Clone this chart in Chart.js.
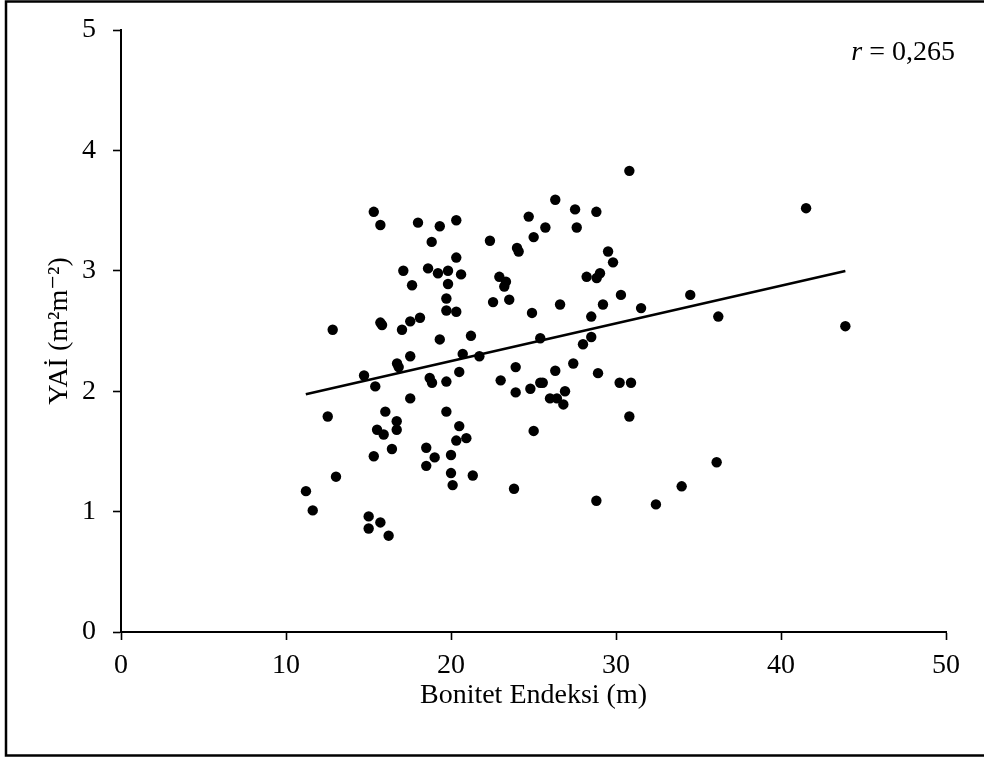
<!DOCTYPE html>
<html>
<head>
<meta charset="utf-8">
<script src="https://cdn.jsdelivr.net/npm/chart.js@4.4.1/dist/chart.umd.min.js"></script>
<style>
  html, body { margin: 0; padding: 0; background: #fff; }
  #wrap { width: 984px; height: 758px; position: relative; }
</style>
</head>
<body>
<div id="wrap"><canvas id="c" width="984" height="758"></canvas></div>
<script>
// Bonitet Endeksi (m)
const xValues = [
  15.32, 15.72, 18.00, 19.32, 20.32, 18.83, 20.32, 22.36, 17.11, 18.61,
  19.21, 19.82, 20.61, 17.64, 19.82, 19.72, 19.72, 20.32, 22.55, 12.83,
  15.72, 15.82, 17.53, 18.12, 17.03, 19.32, 21.21, 20.71, 21.72, 17.53,
  16.73, 16.83, 14.73, 15.41, 18.71, 18.85, 19.72, 20.50, 17.53, 12.53,
  16.02, 16.71, 16.71, 15.52, 15.92, 19.72, 20.50, 20.32, 20.93, 16.42,
  15.32, 18.50, 19.01, 18.50, 20.00, 20.00, 20.10, 21.32, 13.03, 11.21,
  11.62, 15.01, 15.01, 15.72, 16.22,
  30.81, 26.32, 27.52, 28.81, 24.71, 25.72, 27.62, 25.01, 24.00, 24.10,
  29.52, 29.82, 22.93, 23.33, 23.23, 28.22, 28.83, 29.03, 23.53, 26.61,
  24.91, 29.21, 30.30, 28.50, 31.52, 25.41, 28.50, 28.00,
  23.92, 26.32, 27.41, 28.91, 23.01, 23.92, 24.81, 25.41, 25.56, 26.91,
  26.00, 26.42, 26.81, 30.22, 30.91, 30.81, 25.01, 23.82, 28.81, 32.42,
  41.52, 34.50, 36.20, 43.90, 36.10, 33.98
];
// YAİ (m2 m-2)
const yValues = [
  3.49, 3.38, 3.40, 3.37, 3.42, 3.24, 3.11, 3.25, 3.00, 3.02,
  2.98, 3.00, 2.97, 2.88, 2.89, 2.77, 2.67, 2.66, 2.74, 2.51,
  2.57, 2.55, 2.58, 2.61, 2.51, 2.43, 2.46, 2.31, 2.29, 2.29,
  2.23, 2.20, 2.13, 2.04, 2.11, 2.07, 2.08, 2.16, 1.94, 1.79,
  1.83, 1.75, 1.68, 1.68, 1.64, 1.83, 1.71, 1.59, 1.61, 1.52,
  1.46, 1.53, 1.45, 1.38, 1.47, 1.32, 1.22, 1.30, 1.29, 1.17,
  1.01, 0.96, 0.86, 0.91, 0.80,
  3.83, 3.59, 3.51, 3.49, 3.45, 3.36, 3.36, 3.28, 3.19, 3.16,
  3.16, 3.07, 2.95, 2.91, 2.87, 2.95, 2.94, 2.98, 2.76, 2.72,
  2.65, 2.72, 2.80, 2.62, 2.69, 2.44, 2.45, 2.39,
  2.20, 2.17, 2.23, 2.15, 2.09, 1.99, 2.02, 2.07, 2.07, 2.00,
  1.94, 1.94, 1.89, 2.07, 2.07, 1.79, 1.67, 1.19, 1.09, 1.06,
  3.52, 2.80, 2.62, 2.54, 1.41, 1.21
];
// fitted regression line end points
const trendX = [11.2, 43.9];
const trendY = [1.975, 2.998];
const xTickValues = [0, 10, 20, 30, 40, 50];
const yTickValues = [0, 1, 2, 3, 4, 5];
const xTitle = 'Bonitet Endeksi (m)';
const yTitle = 'YAİ (m²m⁻²)';
const rLabel = ['r', ' = 0,265'];

const FONT = '"Liberation Serif", "Times New Roman", "DejaVu Serif", serif';
const FS = 28;

const points = xValues.map((x, i) => ({ x: x, y: yValues[i] }));
const trend = trendX.map((x, i) => ({ x: x, y: trendY[i] }));

const decor = {
  id: 'decor',
  beforeDraw(chart) {
    const ctx = chart.ctx;
    ctx.save();
    ctx.fillStyle = '#fff';
    ctx.fillRect(0, 0, chart.width, chart.height);
    ctx.restore();
  },
  afterDraw(chart) {
    const ctx = chart.ctx;
    ctx.save();
    // outer frame
    ctx.strokeStyle = '#000';
    ctx.lineWidth = 2.5;
    ctx.strokeRect(6, 1.5, 1000, 754);
    // r label
    ctx.fillStyle = '#000';
    ctx.textBaseline = 'alphabetic';
    ctx.font = 'italic ' + FS + 'px ' + FONT;
    const w1 = ctx.measureText(rLabel[0]).width;
    ctx.font = FS + 'px ' + FONT;
    const w2 = ctx.measureText(rLabel[1]).width;
    const right = 955;
    const x0 = right - w1 - w2;
    ctx.font = 'italic ' + FS + 'px ' + FONT;
    ctx.fillText(rLabel[0], x0, 60);
    ctx.font = FS + 'px ' + FONT;
    ctx.fillText(rLabel[1], x0 + w1, 60);
    ctx.restore();
  }
};

function zeroPad(s) { s.paddingTop = 0; s.paddingBottom = 0; s.paddingLeft = 0; s.paddingRight = 0; }

new Chart(document.getElementById('c'), {
  type: 'scatter',
  data: {
    datasets: [
      {
        data: points,
        backgroundColor: '#000',
        borderColor: '#000',
        borderWidth: 0,
        pointRadius: 5.2,
        pointHoverRadius: 5.2
      },
      {
        type: 'line',
        data: trend,
        showLine: true,
        borderColor: '#000',
        borderWidth: 2.6,
        pointRadius: 0,
        fill: false
      }
    ]
  },
  options: {
    responsive: false,
    animation: false,
    devicePixelRatio: 1,
    layout: { padding: { left: 0, top: 30, right: 38, bottom: 0 } },
    plugins: { legend: { display: false }, tooltip: { enabled: false } },
    scales: {
      x: {
        type: 'linear',
        min: 0, max: 50,
        afterBuildTicks: s => { s.ticks = xTickValues.map(v => ({ value: v })); },
        afterFit: s => { s.height = 126; zeroPad(s); },
        ticks: { color: '#000', font: { family: FONT, size: FS }, padding: 9, maxRotation: 0 },
        grid: { drawOnChartArea: false, drawTicks: true, tickLength: 8, tickWidth: 1.6, tickColor: '#000' },
        border: { color: '#000', width: 2 },
        title: { display: true, text: xTitle, color: '#000', font: { family: FONT, size: FS }, padding: { top: 0, bottom: 46 } }
      },
      y: {
        type: 'linear',
        min: 0, max: 5,
        afterBuildTicks: s => { s.ticks = yTickValues.map(v => ({ value: v })); },
        afterFit: s => { s.width = 121; zeroPad(s); },
        ticks: { color: '#000', font: { family: FONT, size: FS }, padding: 17 },
        grid: { drawOnChartArea: false, drawTicks: true, tickLength: 8, tickWidth: 1.6, tickColor: '#000' },
        border: { color: '#000', width: 2 },
        title: { display: true, text: yTitle, color: '#000', font: { family: FONT, size: FS }, padding: { top: 43, bottom: 0 } }
      }
    }
  },
  plugins: [decor]
});
</script>
</body>
</html>
